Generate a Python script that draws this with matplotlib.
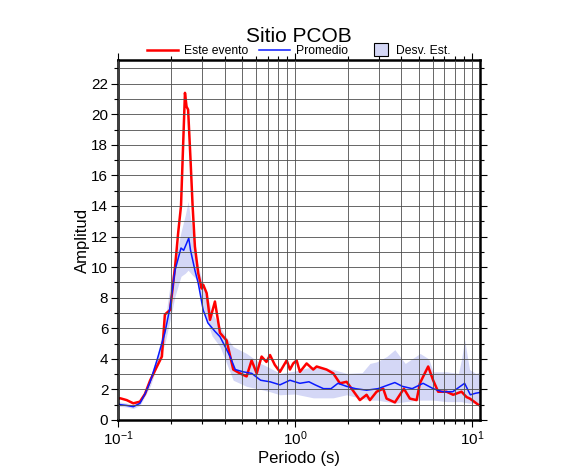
import numpy as np
import matplotlib
matplotlib.use("Agg")
import matplotlib.pyplot as plt
from matplotlib.ticker import LogLocator, MultipleLocator
from matplotlib.patches import Rectangle
from matplotlib.legend_handler import HandlerPatch

plt.rcParams['font.family'] = ['Liberation Sans', 'DejaVu Sans']

# este evento (rojo)
p_red = [0.100, 0.103, 0.112, 0.122, 0.133, 0.142, 0.152, 0.166, 0.177, 0.184, 0.197,
         0.210, 0.219, 0.227, 0.235, 0.239, 0.244, 0.249, 0.257, 0.264, 0.272,
         0.284, 0.297, 0.303, 0.317, 0.331, 0.353, 0.377, 0.411, 0.448, 0.489,
         0.533, 0.569, 0.608, 0.648, 0.690, 0.723, 0.770, 0.823, 0.898, 0.937,
         0.978, 1.022, 1.067, 1.164, 1.269, 1.326, 1.510, 1.646, 1.796, 1.959,
         2.090, 2.328, 2.541, 2.654, 2.894, 3.155, 3.296, 3.673, 3.918, 4.128,
         4.464, 4.873, 5.085, 5.310, 5.664, 6.040, 6.450, 7.195, 7.837, 8.742,
         9.333, 9.746, 10.3, 10.86, 11.1]
a_red = [1.40, 1.42, 1.30, 1.09, 1.20, 1.70, 2.60, 3.50, 4.15, 6.90, 7.20,
         10.0, 12.3, 14.0, 19.0, 21.4, 20.5, 20.3, 17.0, 14.0, 11.35,
         9.60, 8.60, 8.85, 8.30, 6.55, 7.75, 5.70, 5.20, 3.30, 3.05,
         2.85, 3.90, 3.05, 4.15, 3.80, 4.25, 3.60, 3.15, 3.90, 3.30,
         3.70, 3.90, 3.15, 3.70, 3.30, 3.50, 3.30, 3.05, 2.40, 2.50,
         2.05, 1.30, 1.65, 1.30, 1.85, 2.05, 1.40, 1.15, 1.65, 2.05,
         1.40, 1.30, 2.40, 2.85, 3.50, 2.60, 1.85, 1.85, 1.65, 1.85,
         1.50, 1.40, 1.20, 1.00, 0.95]

# promedio (azul)
p_mean = [0.100, 0.103, 0.112, 0.122, 0.133, 0.142, 0.152, 0.166, 0.184, 0.197, 0.210,
          0.227, 0.235, 0.244, 0.251, 0.257, 0.272, 0.284, 0.303, 0.322, 0.353,
          0.377, 0.403, 0.430, 0.460, 0.510, 0.570, 0.640, 0.723, 0.823, 0.937,
          1.067, 1.20, 1.30, 1.45, 1.60, 1.75, 1.96, 2.20, 2.54, 2.95, 3.67,
          4.05, 4.60, 5.30, 6.05, 6.80, 7.80, 8.60, 9.10, 9.80, 10.5, 11.1]
a_mean = [1.05, 1.00, 0.95, 0.87, 1.09, 1.70, 2.50, 3.90, 5.70, 7.40, 9.80,
          11.25, 11.1, 11.55, 11.9, 11.1, 9.80, 8.95, 7.20, 6.35, 5.80,
          5.45, 4.80, 4.15, 3.30, 3.15, 3.05, 2.60, 2.50, 2.30, 2.60,
          2.40, 2.50, 2.30, 2.05, 2.05, 2.40, 2.20, 2.05, 1.95, 2.05, 2.45,
          2.20, 2.05, 2.40, 2.05, 1.85, 1.85, 2.20, 2.40, 1.65, 1.75, 1.80]

# desviacion estandar (banda)
p_band = [0.100, 0.112, 0.122, 0.133, 0.152, 0.166, 0.184, 0.197, 0.210, 0.227, 0.240,
          0.249, 0.262, 0.278, 0.297, 0.317, 0.340, 0.377, 0.411, 0.448, 0.533,
          0.640, 0.723, 0.823, 1.00, 1.269, 1.646, 1.959, 2.40, 2.654, 2.894,
          3.30, 3.67, 4.20, 5.10, 5.70, 6.05, 7.20, 8.40, 8.75, 9.10, 9.70, 10.5, 11.1]
a_upper = [1.20, 1.10, 1.00, 1.25, 2.80, 4.20, 6.40, 8.85, 10.4, 12.3, 13.4,
           14.3, 12.5, 10.5, 9.20, 8.30, 7.00, 6.10, 5.40, 4.80, 4.35,
           3.70, 3.40, 3.05, 3.20, 3.50, 3.30, 3.05, 3.10, 3.70, 3.80,
           4.15, 4.60, 3.70, 4.35, 4.00, 3.15, 3.15, 3.05, 4.00, 5.25, 3.30, 3.05, 3.10]
a_lower = [0.90, 0.85, 0.75, 0.95, 2.20, 3.50, 5.00, 6.55, 8.10, 9.40, 9.60,
           9.80, 9.50, 9.20, 7.80, 6.55, 5.50, 4.80, 3.70, 2.60, 2.20,
           2.00, 1.85, 1.65, 1.70, 1.45, 1.45, 1.65, 1.40, 1.30, 1.30,
           1.20, 1.10, 1.20, 1.30, 1.30, 1.30, 1.20, 1.20, 1.20, 1.15, 1.10, 1.10, 1.10]

band_color = '#d4d7f6'

fig = plt.figure(figsize=(5.86, 4.75), dpi=100)
ax = fig.add_axes([0.2014, 0.1158, 0.6175, 0.7579])

ax.fill_between(p_band, a_lower, a_upper, color=band_color, lw=0)
l1, = ax.plot(p_red, a_red, color='#ff0000', lw=1.8)
l2, = ax.plot(p_mean, a_mean, color='#0a1aff', lw=1.1)

ax.set_xscale('log')
ax.set_xlim(0.1, 11.1)
ax.set_ylim(0, 23.55)
ax.xaxis.set_major_locator(LogLocator(base=10, numticks=10))
ax.xaxis.set_minor_locator(LogLocator(base=10, subs=np.arange(2, 10), numticks=20))
ax.yaxis.set_major_locator(MultipleLocator(2))
ax.yaxis.set_minor_locator(MultipleLocator(1))

ax.grid(True, which='both', color='0.3', lw=0.6)
ax.set_axisbelow(False)
for s in ax.spines.values():
    s.set_linewidth(1.8)

ax.tick_params(which='both', direction='out', top=True, right=True, labelsize=11, width=0.8)
ax.tick_params(which='major', length=5, pad=2)
ax.tick_params(which='minor', length=3)

ax.set_xlabel('Periodo (s)', fontsize=12, labelpad=2)
ax.set_ylabel('Amplitud', fontsize=12, labelpad=1)
ax.set_title('Sitio PCOB', fontsize=15, pad=13)


def square_patch(legend, orig_handle, xdescent, ydescent, width, height, fontsize):
    s = height * 1.6
    return Rectangle((width - s - 1 - xdescent, height / 2 - s / 2 - ydescent), s, s)


proxy = Rectangle((0, 0), 1, 1, facecolor=band_color, edgecolor='black', lw=0.8)
ax.legend([l1, l2, proxy], ['Este evento', 'Promedio', 'Desv. Est.'], loc='lower center',
          bbox_to_anchor=(0.5, 0.995), ncol=3, frameon=False, fontsize=8.7,
          handlelength=2.5, columnspacing=0.9, handletextpad=0.55, borderaxespad=0,
          handler_map={proxy: HandlerPatch(patch_func=square_patch)})

fig.savefig('out.png', dpi=100)
